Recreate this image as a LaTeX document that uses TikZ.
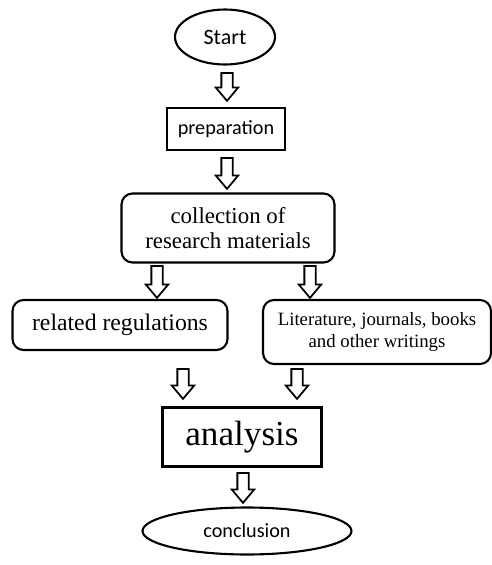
\documentclass[tikz,border=0pt]{standalone}
\usepackage{fontspec}
\setmainfont{Liberation Serif}
\newfontfamily\calibsans{Carlito}
\usetikzlibrary{shapes.geometric, shapes.arrows}
\definecolor{InkBlack}{HTML}{000000}
\tikzset{
  endbox/.style={ellipse, draw=InkBlack, line width=1.2pt, inner sep=0pt,
                align=center, font=\calibsans\fontsize{11.5}{14}\selectfont},
  stepbox/.style={rectangle, draw=InkBlack, line width=1.2pt, inner sep=0pt,
                align=center, font=\calibsans\fontsize{11.5}{14}\selectfont},
  roundbox/.style={rectangle, rounded corners=0.22cm, draw=InkBlack, line width=1.2pt,
                inner sep=0pt, align=center, font=\fontsize{#1}{14}\selectfont},
  flowarrow/.style={single arrow, draw=InkBlack, line width=1pt, fill=white,
                shape border rotate=270, anchor=tail, inner sep=0.095cm,
                single arrow head extend=0.11cm, single arrow tip angle=80,
                minimum height=#1},
}

\begin{document}
\begin{tikzpicture}[x=0.02cm, y=-0.02cm]
    % Coordinate map (pixel grid, y downward):
    % (start)    at (225, 37)  -- ellipse  100 x 55
    % (prep)     at (226, 129) -- box      118 x 42
    % (collect)  at (228, 228) -- rounded  213 x 69
    % (regs)     at (120, 325) -- rounded  215 x 50
    % (lit)      at (377, 332) -- rounded  228 x 64
    % (analysis) at (242, 437) -- box      159 x 59
    % (concl)    at (247, 531) -- ellipse  209 x 47
    \useasboundingbox (0,0) rectangle (492,565);

    \node[endbox, minimum width=2cm, minimum height=1.1cm,
          font=\calibsans\fontsize{12.5}{15}\selectfont] (start) at (225,37) {Start};
    \node[stepbox, minimum width=2.36cm, minimum height=0.84cm] (prep) at (226,129) {preparation};
    \node[roundbox=13, minimum width=4.26cm, minimum height=1.38cm] (collect) at (228,228)
        {collection of\\research materials};
    \node[roundbox=13.5, minimum width=4.3cm, minimum height=1cm] (regs) at (120,325)
        {related regulations};
    \node[roundbox=10.7, minimum width=4.56cm, minimum height=1.28cm] (lit) at (377,332)
        {Literature, journals, books\\[-1pt]and other writings};
    \node[stepbox, minimum width=3.18cm, minimum height=1.18cm,
          font=\fontsize{20}{24}\selectfont] (analysis) at (242,437) {analysis};
    \node[endbox, minimum width=4.18cm, minimum height=0.94cm] (concl) at (247,531) {conclusion};

    % hollow block arrows between the steps
    \node[flowarrow=0.56cm] (arrA) at (227,72) {};
    \node[flowarrow=0.62cm] (arrB) at (227,157) {};
    \node[flowarrow=0.64cm] (arrC) at (157,265) {};
    \node[flowarrow=0.64cm] (arrD) at (310,265) {};
    \node[flowarrow=0.6cm] (arrE) at (183,368) {};
    \node[flowarrow=0.6cm] (arrF) at (297,368) {};
    \node[flowarrow=0.6cm] (arrG) at (243,472) {};
\end{tikzpicture}
\end{document}
